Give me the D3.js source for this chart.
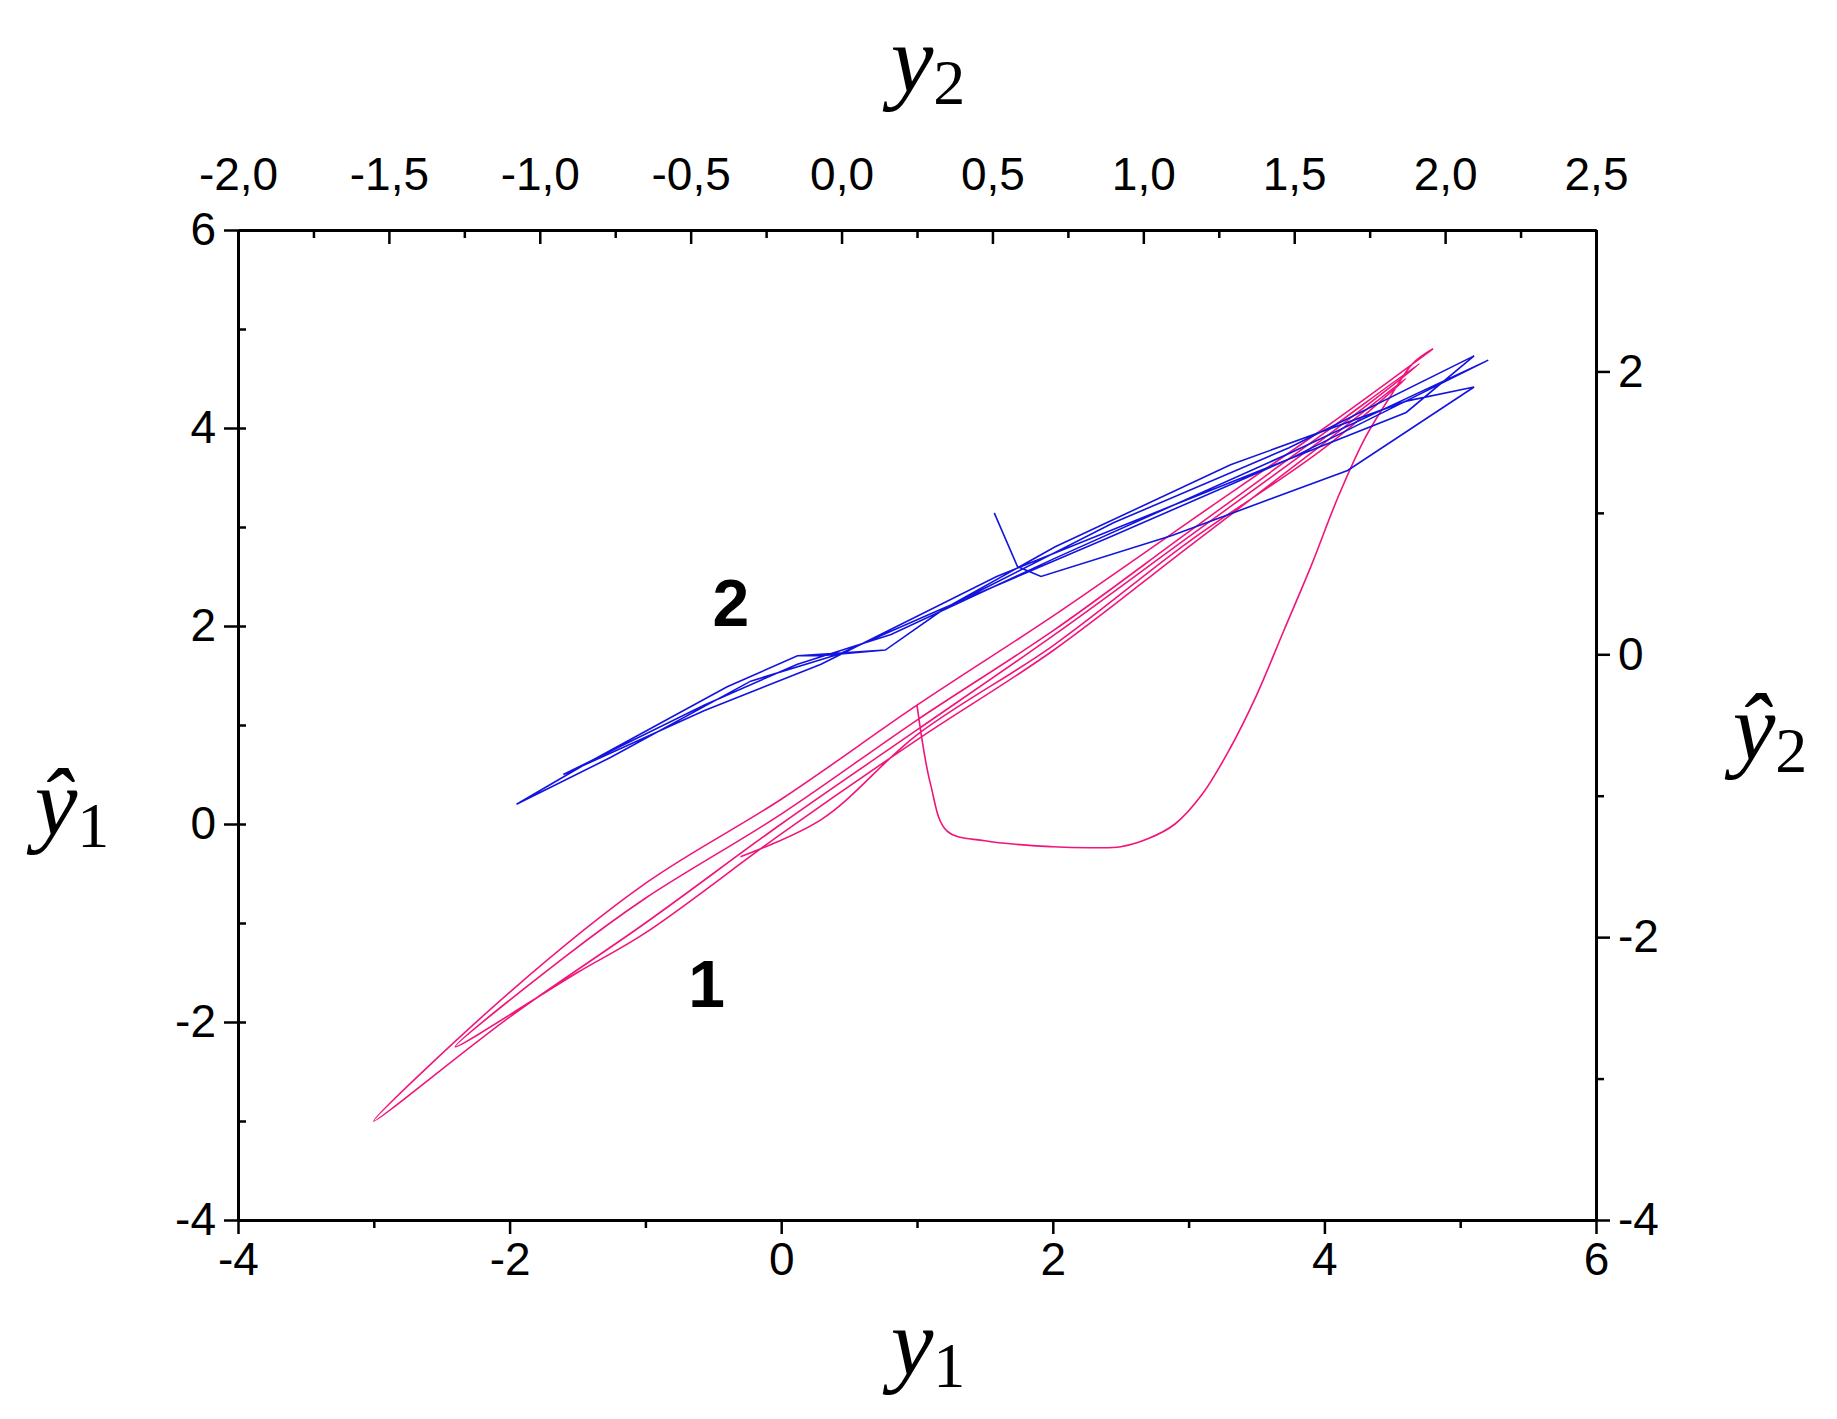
<!DOCTYPE html><html><head><meta charset="utf-8"><script src="https://cdn.jsdelivr.net/npm/d3@7"></script>
<style>body{margin:0;background:#fff}</style></head><body><svg id="c" width="1837" height="1419"></svg><script>
const bottomTicks=[-4,-2,0,2,4,6], leftTicks=[-4,-2,0,2,4,6];
const topTicks=[-2,-1.5,-1,-0.5,0,0.5,1,1.5,2,2.5], rightTicks=[-4,-2,0,2];
// curve 1 (y1, ŷ1)
const curve1=[[1.0,1.2],[1.1,0.4],[1.22,-0.07],[1.5,-0.17],[2.0,-0.23],[2.3,-0.24],[2.5,-0.23],[2.7,-0.15],[2.9,0.0],[3.1,0.3],[3.3,0.75],[3.5,1.3],[3.7,1.95],[3.9,2.6],[4.1,3.3],[4.3,3.9],[4.5,4.35],[4.65,4.65],
[4.8,4.8],[4.0,4.0],[3.0,3.05],[2.0,2.1],[1.0,1.2],[0,0.25],[-1,-0.6],[-2,-1.7],[-3,-3],
[-2,-1.95],[-1,-1.0],[0,0.0],[1,0.95],[2,1.9],[3,2.9],[4,3.9],[4.7,4.65],
[4.0,3.95],[3,2.95],[2,1.95],[1,1.05],[0,0.1],[-1,-0.75],[-1.6,-1.35],[-2.4,-2.25],
[-1.5,-1.5],[-1,-1.1],[0,-0.1],[1,0.85],[2,1.75],[3,2.8],[4,3.85],[4.6,4.5],
[4.0,3.8],[3,2.85],[2,1.8],[1,0.9],[0.3,0.05],[-0.3,-0.33]];
// curve 2 (y2, ŷ2)
const curve2=[[0.506,1.0],[0.583,0.62],[0.661,0.55],[1.095,0.84],[1.677,1.30],[2.096,1.89],[1.871,1.79],[1.289,1.34],[0.708,0.76],[0.339,0.32],[0.145,0.03],[-0.068,-0.01],[-0.146,-0.01],[-0.379,-0.23],[-0.844,-0.77],[-1.077,-1.06],
[-0.766,-0.73],[-0.301,-0.19],[-0.01,0.0],[0.32,0.31],[0.901,0.84],[1.483,1.38],[2.143,2.08],
[1.483,1.42],[0.708,0.68],[0.164,0.14],[-0.146,-0.07],[-0.456,-0.36],[-0.922,-0.85],
[-0.456,-0.40],[-0.068,-0.07],[0.514,0.55],[1.095,1.05],[1.871,1.71],[2.096,2.11],[1.483,1.46],[0.901,0.93],[0.339,0.32],[0.145,0.03],[-0.146,-0.01]];
const L=238,R=1596,T=230,B=1220;
const x1=d3.scaleLinear([-4,6],[L,R]), yl=d3.scaleLinear([-4,6],[B,T]);
const x2=d3.scaleLinear([-2,2.5],[L,R]), yr=d3.scaleLinear([-4,3],[B,T]);
const svg=d3.select("#c");
const tf="Liberation Sans, Arial, sans-serif";
const fmt=v=>v.toFixed(1).replace('.',','), fi=v=>String(v);
function ax(g,axis){g.call(axis);g.selectAll("text").attr("font-family",tf).attr("font-size",46).attr("fill","#000");g.select(".domain").attr("stroke-width",3);g.selectAll("line").attr("stroke-width",2.5);}
const mk=(f,s,ticks,fm,inner)=>f(s).tickValues(ticks).tickFormat(fm).tickSizeInner(inner).tickSizeOuter(0).tickPadding(8);
svg.append("g").attr("transform",`translate(0,${B})`).call(g=>ax(g,mk(d3.axisBottom,x1,bottomTicks,fi,14)));
svg.append("g").attr("transform",`translate(0,${B})`).call(g=>ax(g,d3.axisBottom(x1).tickValues(d3.range(-3,6,2)).tickFormat("").tickSize(8).tickSizeOuter(0)));
svg.append("g").attr("transform",`translate(${L},0)`).call(g=>ax(g,mk(d3.axisLeft,yl,leftTicks,fi,14)));
svg.append("g").attr("transform",`translate(${L},0)`).call(g=>ax(g,d3.axisLeft(yl).tickValues(d3.range(-3,6,1)).tickFormat("").tickSize(-8).tickSizeOuter(0)));
svg.append("g").attr("transform",`translate(0,${T})`).call(g=>ax(g,mk(d3.axisTop,x2,topTicks,fmt,-14).tickPadding(40)));
svg.append("g").attr("transform",`translate(0,${T})`).call(g=>ax(g,d3.axisTop(x2).tickValues(d3.range(-1.75,2.5,0.5)).tickFormat("").tickSize(-8).tickSizeOuter(0)));
svg.append("g").attr("transform",`translate(${R},0)`).call(g=>ax(g,mk(d3.axisRight,yr,rightTicks,fi,14)));
svg.append("g").attr("transform",`translate(${R},0)`).call(g=>ax(g,d3.axisRight(yr).tickValues(d3.range(-3,3,2)).tickFormat("").tickSize(8).tickSizeOuter(0)));
svg.append("path").datum(curve1).attr("fill","none").attr("stroke","#f0157a").attr("stroke-width",1.6)
 .attr("d",d3.line().x(d=>x1(d[0])).y(d=>yl(d[1])).curve(d3.curveCatmullRom));
svg.append("path").datum(curve2).attr("fill","none").attr("stroke","#1414e0").attr("stroke-width",1.6)
 .attr("d",d3.line().x(d=>x2(d[0])).y(d=>yr(d[1])));
const lab=(x,y,t)=>svg.append("text").attr("x",x).attr("y",y).attr("font-family",tf).attr("font-weight","bold").attr("font-size",66).attr("text-anchor","middle").text(t);
lab(x1(-0.55),yl(-1.85),"1"); lab(x1(-0.37),yl(2.0),"2");
const tt=(x,y,sub,hat)=>{const t=svg.append("text").attr("x",x).attr("y",y).attr("font-family","Liberation Serif, Times New Roman, serif").attr("font-size",96).attr("text-anchor","middle");
 t.append("tspan").attr("font-style","italic").text(hat?"ŷ":"y"); t.append("tspan").attr("font-size",64).attr("dy",12).text(sub);};
tt(928,1375,"1",false); tt(928,92,"2",false); tt(72,835,"1",true); tt(1770,760,"2",true);
</script></body></html>
